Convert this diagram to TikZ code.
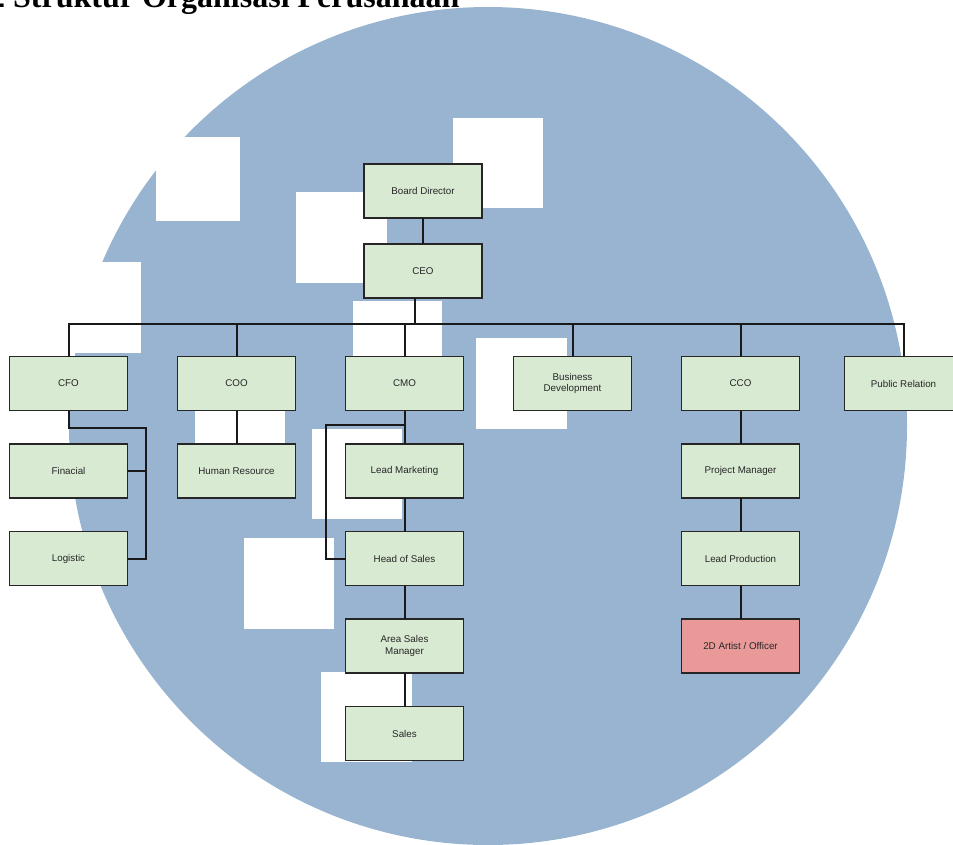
\documentclass[tikz,border=0pt]{standalone}
\usepackage{fontspec}
\setmainfont{Liberation Sans}
\newfontfamily\titlefont{Liberation Serif}
\usetikzlibrary{positioning}
\definecolor{bgblue}{HTML}{98B4D0}
\definecolor{boxgreen}{HTML}{D9EAD3}
\definecolor{boxred}{HTML}{EA9999}

\begin{document}
\begin{tikzpicture}[
    x=1pt, y=-1pt,
    role/.style={draw=black!85, line width=1.2pt, fill=boxgreen, minimum width=118pt, minimum height=54pt, outer sep=0pt, align=center, text=black!85, font=\fontsize{9.8}{11.3}\selectfont},
    patch/.style={fill=white},
    link/.style={line width=2pt, black!90},
    node distance=33.5pt and 50pt,
  ]
    \useasboundingbox (0,0) rectangle (953,844);
    \clip (0,0) rectangle (953,844);

    \fill[bgblue] (488,426) circle[radius=419pt];
    \fill[patch] (156,137) rectangle (240,221);
    \fill[patch] (51,262) rectangle (141,353);
    \fill[patch] (296,192) rectangle (387,283);
    \fill[patch] (453,118) rectangle (543,208);
    \fill[patch] (353,301) rectangle (442,391);
    \fill[patch] (476,338) rectangle (567,429);
    \fill[patch] (195,356) rectangle (285,446);
    \fill[patch] (312,429) rectangle (402,519);
    \fill[patch] (244,538) rectangle (334,629);
    \fill[patch] (321,672) rectangle (412,762);

    \node[anchor=base west, inner sep=0pt, font=\titlefont\bfseries\fontsize{32}{36}\selectfont] (title) at (-11,7.5) {2 Struktur Organisasi Perusahaan};

    \node[role] (board) at (423,191) {Board Director};
    \node[role, below=26pt of board] (ceo) {CEO};

    \node[role] (cfo) at (68.5,383.5) {CFO};
    \node[role, right=of cfo] (coo) {COO};
    \node[role, right=of coo] (cmo) {CMO};
    \node[role, right=of cmo] (bizdev) {Business\\Development};
    \node[role, right=of bizdev] (cco) {CCO};
    \node[role, right=45pt of cco] (pr) {Public Relation};

    \node[role, below=of cfo] (fin) {Finacial};
    \node[role, below=of fin] (logis) {Logistic};
    \node[role, below=of coo] (hr) {Human Resource};
    \node[role, below=of cmo] (leadmkt) {Lead Marketing};
    \node[role, below=of leadmkt] (headsales) {Head of Sales};
    \node[role, below=of headsales] (asm) {Area Sales\\Manager};
    \node[role, below=of asm] (sales) {Sales};
    \node[role, below=of cco] (pm) {Project Manager};
    \node[role, below=of pm] (leadprod) {Lead Production};
    \node[role, below=of leadprod, fill=boxred] (artist) {2D Artist / Officer};

    \draw[link] (board) -- (ceo);
    \draw[link] ([xshift=-8pt]ceo.south) -- ++(0,26) coordinate (bus);
    \draw[link] (cfo.north) -- (cfo.north |- bus) -- (pr.north |- bus) -- (pr.north);
    \foreach \r in {coo,cmo,bizdev,cco}
      \draw[link] (\r.north) -- (\r.north |- bus);

    \draw[link] (cfo.south) -- ++(0,17) -| ([xshift=18pt]logis.east) -- (logis.east);
    \draw[link] (fin.east) -- ++(18,0);
    \draw[link] (coo) -- (hr);
    \draw[link] (cmo) -- (leadmkt);
    \draw[link] ([yshift=-14pt]cmo.south) -| ([xshift=-20pt]headsales.west) -- (headsales.west);
    \draw[link] (leadmkt) -- (headsales) -- (asm) -- (sales);
    \draw[link] (cco) -- (pm) -- (leadprod) -- (artist);
  \end{tikzpicture}
\end{document}
